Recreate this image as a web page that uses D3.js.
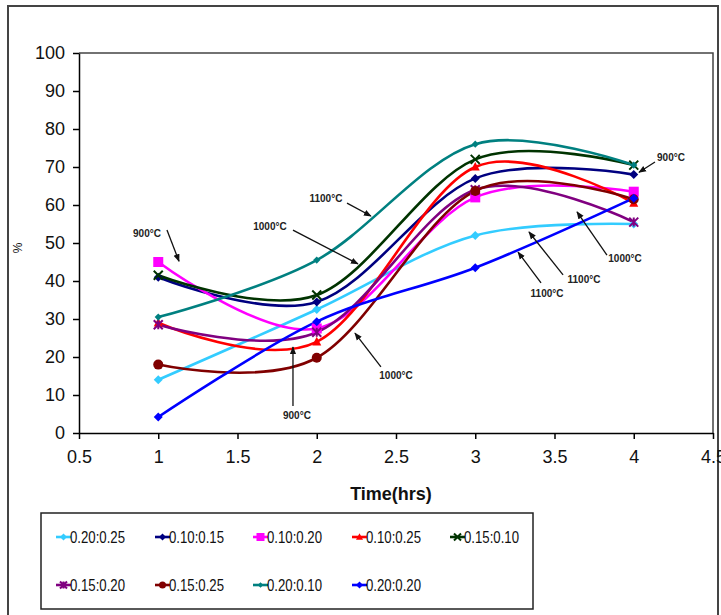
<!DOCTYPE html>
<html><head><meta charset="utf-8">
<script src="https://cdn.jsdelivr.net/npm/d3@7"></script>
<style>
body{margin:0;background:#fff;}
svg{display:block;}
</style></head>
<body>
<svg id="chart" width="721" height="615"></svg>
<script>
const times = [1, 2, 3, 4];
const seriesNames = ["0.20:0.25","0.10:0.15","0.10:0.20","0.10:0.25","0.15:0.10","0.15:0.20","0.15:0.25","0.20:0.10","0.20:0.20"];
const s_020_025 = [14, 32.5, 52, 55];
const s_010_015 = [41, 34.5, 67, 68];
const s_010_020 = [45, 27.5, 62, 63.5];
const s_010_025 = [29, 24, 70, 60.5];
const s_015_010 = [41.5, 36.3, 72, 70.5];
const s_015_020 = [28.5, 26.5, 64, 55.5];
const s_015_025 = [18, 19.8, 63.7, 61.5];
const s_020_010 = [30.5, 45.5, 76, 70.5];
const s_020_020 = [4.2, 29.3, 43.5, 61.8];
const seriesValues = [s_020_025,s_010_015,s_010_020,s_010_025,s_015_010,s_015_020,s_015_025,s_020_010,s_020_020];
const seriesColors = ["#33CCFF","#000080","#FF00FF","#FF0000","#003300","#800080","#800000","#008080","#0000FF"];
const seriesMarkers = ["diamond","diamond","square","triangle","cross","star","circle","plus","diamond"];
const xTicks = [0.5,1,1.5,2,2.5,3,3.5,4,4.5];
const yTicks = [0,10,20,30,40,50,60,70,80,90,100];
// annotations in data units: label, text position, arrow from, arrow to
const annLabels = ["900°C","1100°C","1000°C","900°C","1000°C","1100°C","1100°C","900°C","1000°C"];
const annText = [[0.929,52.6],[2.058,61.8],[1.705,54.5],[4.235,72.6],[3.945,46.1],[3.686,40.5],[3.453,36.8],[1.875,4.7],[2.5,15.3]];
const annFrom = [[1.055,53.4],[2.191,60.5],[1.850,53.4],[4.134,71.3],[3.831,46.8],[3.554,41.6],[3.415,39.5],[1.850,7.1],[2.405,17.4]];
const annTo = [[1.131,45.2],[2.342,57.1],[2.260,44.5],[4.033,68.6],[3.642,58.2],[3.339,52.9],[3.270,47.6],[1.850,22.6],[2.241,26.3]];

const svg = d3.select("#chart");
const L=79, R=713, T=53, B=433;
const x = d3.scaleLinear().domain([0.5,4.5]).range([L,R]);
const y = d3.scaleLinear().domain([0,100]).range([B,T]);

// outer frame
svg.append("rect").attr("x",8).attr("y",6).attr("width",710).attr("height",620)
  .attr("fill","none").attr("stroke","#444").attr("stroke-width",2);

// plot area border (top/right)
svg.append("path").attr("d",`M${L},${T}H${R}V${B}`).attr("fill","none").attr("stroke","#444").attr("stroke-width",1.5);

const defs = svg.append("defs");
defs.append("marker").attr("id","ah").attr("viewBox","0 0 10 10").attr("refX",9).attr("refY",5)
  .attr("markerWidth",6).attr("markerHeight",6).attr("orient","auto")
  .append("path").attr("d","M0,1 L10,5 L0,9 z").attr("fill","#111");

// axes
const yAxis = d3.axisLeft(y).tickValues(yTicks).tickSize(6).tickSizeOuter(0).tickPadding(8);
const gy = svg.append("g").attr("transform",`translate(${L},0)`).call(yAxis);
const xAxis = d3.axisBottom(x).tickValues(xTicks).tickSize(6).tickSizeOuter(0).tickPadding(11).tickFormat(d=>String(d));
const gx = svg.append("g").attr("transform",`translate(0,${B})`).call(xAxis);
[gy,gx].forEach(g=>{
  g.selectAll("path,line").attr("stroke","#000").attr("stroke-width",1.5);
  g.selectAll("text").attr("font-family","Liberation Sans, Arial, sans-serif").attr("font-size",18).attr("fill","#111");
});

svg.append("text").attr("transform","translate(22,248) rotate(-90)").attr("text-anchor","middle")
  .attr("font-family","Liberation Sans, Arial, sans-serif").attr("font-size",12).attr("fill","#111").text("%");
svg.append("text").attr("x",391).attr("y",500).attr("text-anchor","middle")
  .attr("font-family","Liberation Sans, Arial, sans-serif").attr("font-size",18).attr("font-weight","bold").attr("fill","#111").text("Time(hrs)");

function drawMarker(g, type, color, cx, cy, s){
  const m = g.append("g").attr("transform",`translate(${cx},${cy})`);
  if(type==="diamond"){
    m.append("path").attr("d",`M0,${-s}L${s},0L0,${s}L${-s},0Z`).attr("fill",color);
  } else if(type==="square"){
    m.append("rect").attr("x",-s).attr("y",-s).attr("width",2*s).attr("height",2*s).attr("fill",color);
  } else if(type==="triangle"){
    m.append("path").attr("d",`M0,${-s*1.1}L${s},${s*0.8}L${-s},${s*0.8}Z`).attr("fill",color);
  } else if(type==="circle"){
    m.append("circle").attr("r",s).attr("fill",color);
  } else if(type==="cross"){
    m.append("path").attr("d",`M${-s},${-s}L${s},${s}M${-s},${s}L${s},${-s}`).attr("stroke",color).attr("stroke-width",2);
  } else if(type==="star"){
    m.append("path").attr("d",`M${-s},${-s}L${s},${s}M${-s},${s}L${s},${-s}M0,${-s}L0,${s}`).attr("stroke",color).attr("stroke-width",2);
  } else if(type==="plus"){
    m.append("path").attr("d",`M0,${-s*0.8}L${s*0.8},0L0,${s*0.8}L${-s*0.8},0Z`).attr("fill",color);
  }
}

const line = d3.line().x(d=>x(d[0])).y(d=>y(d[1])).curve(d3.curveCardinal.tension(0));
const gs = svg.append("g");
seriesValues.forEach((vals,i)=>{
  const pts = times.map((t,j)=>[t, vals[j]]);
  gs.append("path").attr("d",line(pts)).attr("fill","none").attr("stroke",seriesColors[i]).attr("stroke-width",2.6);
});
seriesValues.forEach((vals,i)=>{
  times.forEach((t,j)=>{
    const s = seriesMarkers[i]==="square"?5:(seriesMarkers[i]==="circle"?5:4.5);
    drawMarker(gs, seriesMarkers[i], seriesColors[i], x(t), y(vals[j]), s);
  });
});

// annotations
const ga = svg.append("g");
annLabels.forEach((lab,i)=>{
  ga.append("line").attr("x1",x(annFrom[i][0])).attr("y1",y(annFrom[i][1]))
    .attr("x2",x(annTo[i][0])).attr("y2",y(annTo[i][1]))
    .attr("stroke","#111").attr("stroke-width",1.3).attr("marker-end","url(#ah)");
  ga.append("text").attr("x",x(annText[i][0])).attr("y",y(annText[i][1])+4).attr("text-anchor","middle")
    .attr("font-family","Liberation Sans, Arial, sans-serif").attr("font-size",10).attr("font-weight","bold")
    .attr("fill","#222").text(lab);
});

// legend
svg.append("rect").attr("x",41).attr("y",513).attr("width",492).attr("height",96)
  .attr("fill","#fff").attr("stroke","#222").attr("stroke-width",1.5);
const legX = [56,155,253,352,450];
const legY = [537,585];
const gl = svg.append("g");
seriesNames.forEach((nm,i)=>{
  const lx = legX[i%5], ly = legY[Math.floor(i/5)];
  gl.append("line").attr("x1",lx).attr("x2",lx+15).attr("y1",ly).attr("y2",ly).attr("stroke",seriesColors[i]).attr("stroke-width",2.6);
  const s = seriesMarkers[i]==="square"?4:(seriesMarkers[i]==="circle"?3.5:3.5);
  drawMarker(gl, seriesMarkers[i], seriesColors[i], lx+7.5, ly, s);
  gl.append("text").attr("x",lx+14).attr("y",ly+6).attr("font-family","Liberation Sans, Arial, sans-serif")
    .attr("font-size",17).attr("textLength",55).attr("lengthAdjust","spacingAndGlyphs")
    .attr("fill","#111").text(nm);
});
</script>
</body></html>
